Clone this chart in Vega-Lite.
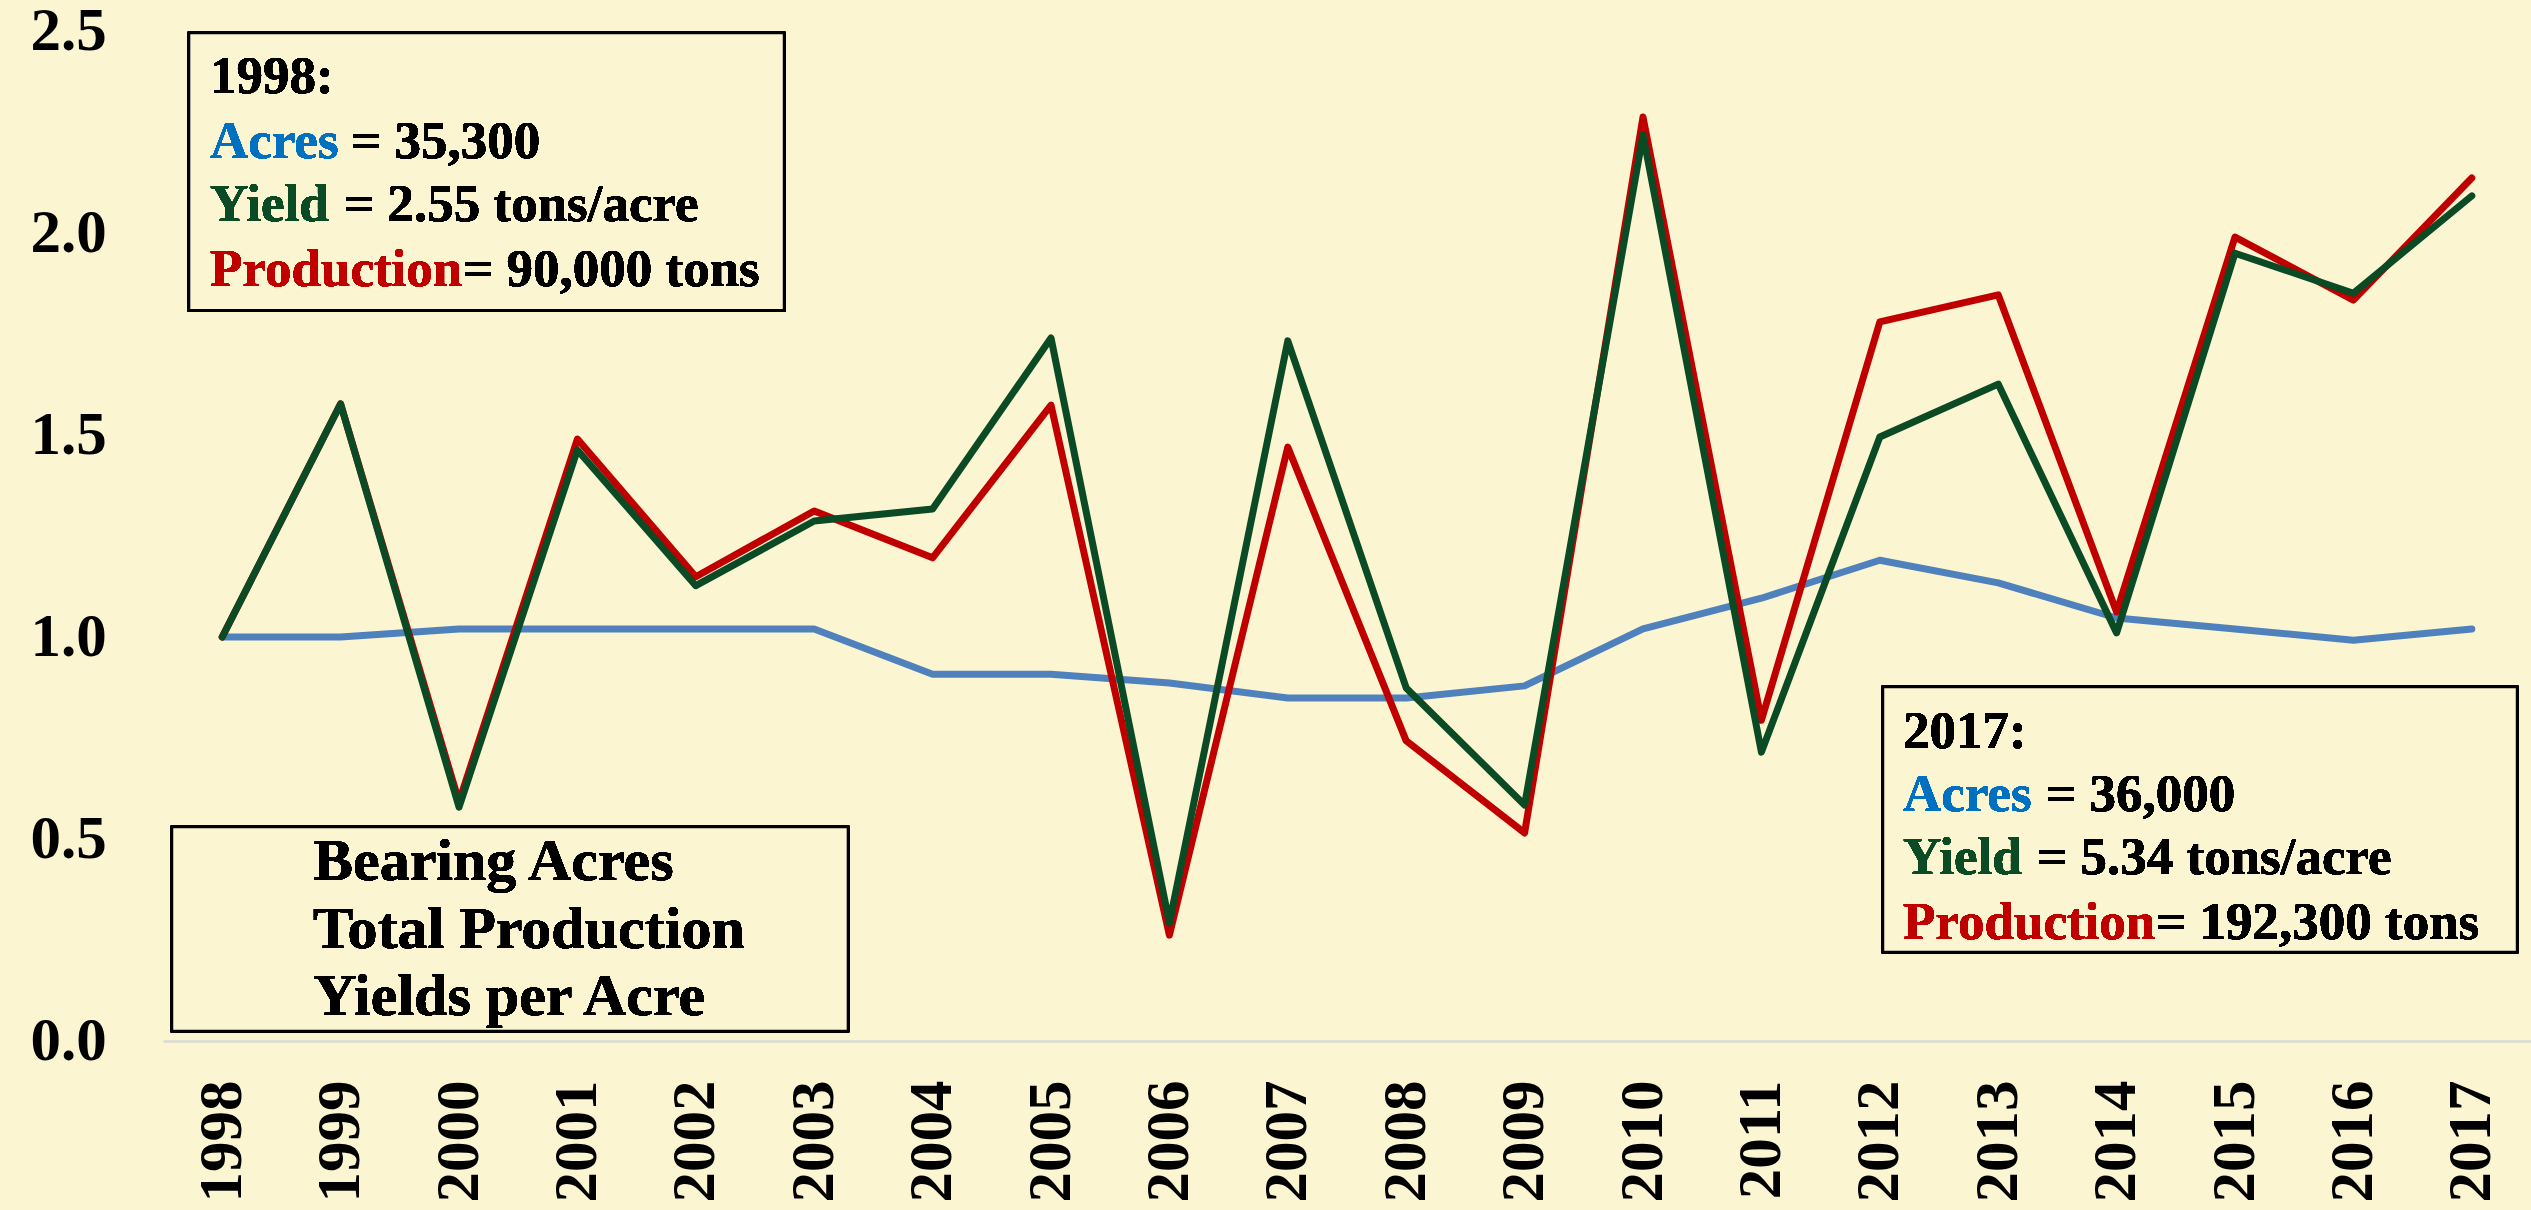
{
  "$schema": "https://vega.github.io/schema/vega-lite/v6.json",
  "width": 2368,
  "height": 1010,
  "autosize": {"type": "none"},
  "padding": {"left": 163, "top": 31, "right": 0, "bottom": 169},
  "background": "#FBF5D2",
  "config": {
    "view": {"stroke": null},
    "text": {"font": "Liberation Serif", "fontWeight": "bold", "fontSize": 53, "align": "left", "baseline": "middle", "color": "#000000"}
  },
  "data": {
    "values": [
      {"year": 1998, "Acres": 1.000, "Yield": 1.000, "Production": 1.000},
      {"year": 1999, "Acres": 1.000, "Yield": 1.577, "Production": 1.577},
      {"year": 2000, "Acres": 1.020, "Yield": 0.579, "Production": 0.592},
      {"year": 2001, "Acres": 1.020, "Yield": 1.463, "Production": 1.490},
      {"year": 2002, "Acres": 1.020, "Yield": 1.127, "Production": 1.149},
      {"year": 2003, "Acres": 1.020, "Yield": 1.287, "Production": 1.312},
      {"year": 2004, "Acres": 0.908, "Yield": 1.317, "Production": 1.196},
      {"year": 2005, "Acres": 0.908, "Yield": 1.740, "Production": 1.574},
      {"year": 2006, "Acres": 0.886, "Yield": 0.292, "Production": 0.262},
      {"year": 2007, "Acres": 0.849, "Yield": 1.733, "Production": 1.470},
      {"year": 2008, "Acres": 0.849, "Yield": 0.874, "Production": 0.743},
      {"year": 2009, "Acres": 0.879, "Yield": 0.584, "Production": 0.515},
      {"year": 2010, "Acres": 1.020, "Yield": 2.243, "Production": 2.287},
      {"year": 2011, "Acres": 1.096, "Yield": 0.715, "Production": 0.794},
      {"year": 2012, "Acres": 1.190, "Yield": 1.495, "Production": 1.780},
      {"year": 2013, "Acres": 1.134, "Yield": 1.626, "Production": 1.847},
      {"year": 2014, "Acres": 1.047, "Yield": 1.010, "Production": 1.062},
      {"year": 2015, "Acres": 1.020, "Yield": 1.950, "Production": 1.990},
      {"year": 2016, "Acres": 0.992, "Yield": 1.851, "Production": 1.834},
      {"year": 2017, "Acres": 1.020, "Yield": 2.092, "Production": 2.136}
    ]
  },
  "layer": [
    {
      "transform": [{"fold": ["Acres", "Production", "Yield"], "as": ["series", "value"]}],
      "mark": {"type": "line", "strokeWidth": 7, "strokeJoin": "round", "strokeCap": "round"},
      "encoding": {
        "x": {
          "field": "year", "type": "quantitative",
          "scale": {"domain": [1997.5, 2017.5], "nice": false, "zero": false},
          "axis": {
            "title": null,
            "values": [1998, 1999, 2000, 2001, 2002, 2003, 2004, 2005, 2006, 2007, 2008, 2009, 2010, 2011, 2012, 2013, 2014, 2015, 2016, 2017],
            "format": "d",
            "labelAngle": 270,
            "labelAlign": "right",
            "labelBaseline": "middle",
            "labelFont": "Liberation Serif",
            "labelFontWeight": "bold",
            "labelFontSize": 61,
            "labelColor": "#000000",
            "labelPadding": 39,
            "labelOverlap": false,
            "labelFlush": false,
            "ticks": false,
            "tickSize": 0,
            "grid": false,
            "domain": true,
            "domainColor": "#D9D9D9",
            "domainWidth": 2.5
          }
        },
        "y": {
          "field": "value", "type": "quantitative",
          "scale": {"domain": [0, 2.5], "nice": false},
          "axis": {
            "title": null,
            "values": [0, 0.5, 1, 1.5, 2, 2.5],
            "format": ".1f",
            "labelAlign": "left",
            "labelBaseline": "middle",
            "labelFont": "Liberation Serif",
            "labelFontWeight": "bold",
            "labelFontSize": 61,
            "labelColor": "#000000",
            "labelPadding": 133,
            "labelFlush": false,
            "labelOverlap": false,
            "ticks": false,
            "tickSize": 0,
            "grid": false,
            "domain": false
          }
        },
        "color": {
          "field": "series", "type": "nominal",
          "scale": {"domain": ["Acres", "Production", "Yield"], "range": ["#4F81BD", "#C00000", "#0A4A24"]},
          "legend": null
        }
      }
    },
    {
      "mark": {"type": "rect", "fill": "#FBF5D2", "stroke": "#000000", "strokeWidth": 2.5},
      "encoding": {"x": {"datum": 1997.72}, "x2": {"datum": 2002.745}, "y": {"datum": 2.495}, "y2": {"datum": 1.809}}
    },
    {
      "mark": {"type": "rect", "fill": "#FBF5D2", "stroke": "#000000", "strokeWidth": 2.5},
      "encoding": {"x": {"datum": 2012.027}, "x2": {"datum": 2017.382}, "y": {"datum": 0.876}, "y2": {"datum": 0.220}}
    },
    {
      "mark": {"type": "rect", "fill": "#FBF5D2", "stroke": "#000000", "strokeWidth": 2.5},
      "encoding": {"x": {"datum": 1997.576}, "x2": {"datum": 2003.285}, "y": {"datum": 0.530}, "y2": {"datum": 0.025}}
    },
    {"mark": {"type": "text", "text": "1998:"}, "encoding": {"x": {"datum": 1997.897}, "y": {"datum": 2.386}}},
    {"mark": {"type": "text", "text": "Acres", "color": "#0070C0"}, "encoding": {"x": {"datum": 1997.897}, "y": {"datum": 2.225}}},
    {"mark": {"type": "text", "text": "= 35,300"}, "encoding": {"x": {"datum": 1999.088}, "y": {"datum": 2.225}}},
    {"mark": {"type": "text", "text": "Yield", "color": "#0A4A24"}, "encoding": {"x": {"datum": 1997.897}, "y": {"datum": 2.069}}},
    {"mark": {"type": "text", "text": "= 2.55 tons/acre"}, "encoding": {"x": {"datum": 1999.029}, "y": {"datum": 2.069}}},
    {"mark": {"type": "text", "text": "Production", "color": "#C00000"}, "encoding": {"x": {"datum": 1997.897}, "y": {"datum": 1.909}}},
    {"mark": {"type": "text", "text": "= 90,000 tons"}, "encoding": {"x": {"datum": 2000.034}, "y": {"datum": 1.909}}},
    {"mark": {"type": "text", "text": "2017:"}, "encoding": {"x": {"datum": 2012.196}, "y": {"datum": 0.765}}},
    {"mark": {"type": "text", "text": "Acres", "color": "#0070C0"}, "encoding": {"x": {"datum": 2012.196}, "y": {"datum": 0.609}}},
    {"mark": {"type": "text", "text": "= 36,000"}, "encoding": {"x": {"datum": 2013.404}, "y": {"datum": 0.609}}},
    {"mark": {"type": "text", "text": "Yield", "color": "#0A4A24"}, "encoding": {"x": {"datum": 2012.196}, "y": {"datum": 0.453}}},
    {"mark": {"type": "text", "text": "= 5.34 tons/acre"}, "encoding": {"x": {"datum": 2013.328}, "y": {"datum": 0.453}}},
    {"mark": {"type": "text", "text": "Production", "color": "#C00000"}, "encoding": {"x": {"datum": 2012.196}, "y": {"datum": 0.292}}},
    {"mark": {"type": "text", "text": "= 192,300 tons"}, "encoding": {"x": {"datum": 2014.333}, "y": {"datum": 0.292}}},
    {"mark": {"type": "text", "text": "Bearing Acres", "fontSize": 60}, "encoding": {"x": {"datum": 1998.767}, "y": {"datum": 0.443}}},
    {"mark": {"type": "text", "text": "Total Production", "fontSize": 60}, "encoding": {"x": {"datum": 1998.767}, "y": {"datum": 0.275}}},
    {"mark": {"type": "text", "text": "Yields per Acre", "fontSize": 60}, "encoding": {"x": {"datum": 1998.767}, "y": {"datum": 0.109}}}
  ]
}
